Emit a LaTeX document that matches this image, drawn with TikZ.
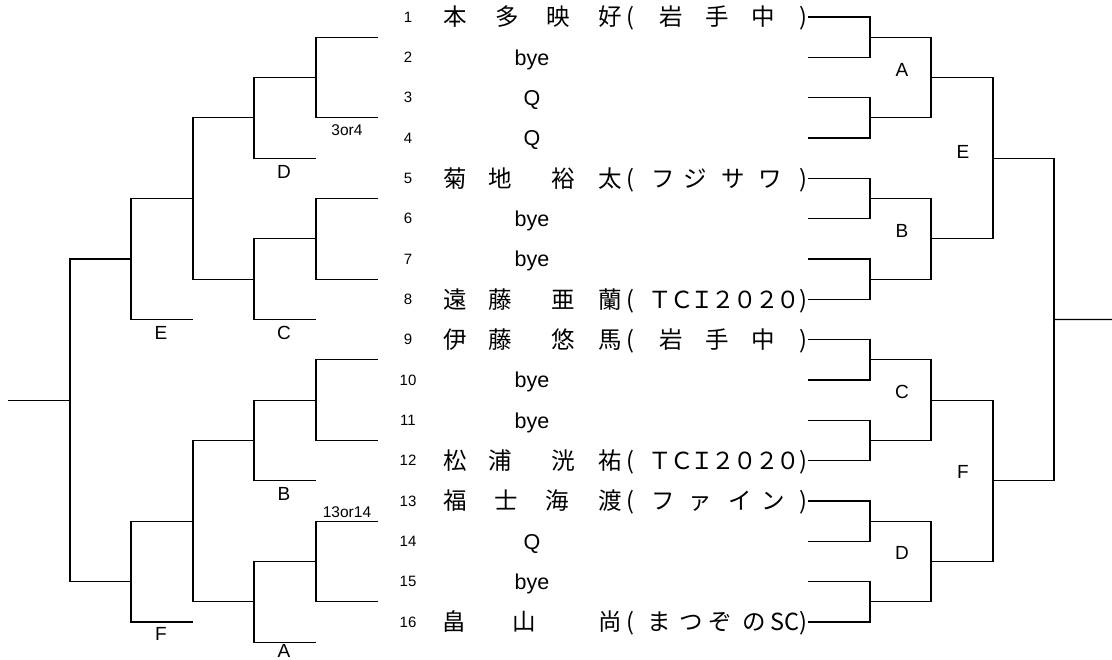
\documentclass[tikz,border=0pt]{standalone}
\usepackage{fontspec}
\setmainfont{Liberation Sans}
\newfontfamily\jpfont{Noto Sans CJK JP}
\usetikzlibrary{calc}

\tikzset{
  bline/.style={line width=1.2pt},
  jp/.style={font=\jpfont\fontsize{23.5}{23.5}\selectfont,inner sep=0pt,anchor=base},
  bye/.style={font=\fontsize{21.5}{21.5}\selectfont,inner sep=0pt,anchor=base},
  num/.style={font=\fontsize{15}{15}\selectfont,inner sep=0pt},
  lbl/.style={font=\fontsize{19}{19}\selectfont,inner sep=0pt},
  seed/.style={font=\fontsize{15.5}{15.5}\selectfont,inner sep=0pt}
}

% one bracket: top, bottom, column, name of the join
\newcommand\bkt[4]{%
  \draw[bline] (#1) -| (#3 |- #2) -- (#2);
  \coordinate (#4) at ($(#1 -| #3)!.5!(#2 -| #3)$);}

% one player row: row number, list of character/x
\newcommand\player[2]{%
  \foreach \ch/\cx [count=\k] in {#2}
    \node[jp] (p#1-\k) at (\cx,{ry(#1)+9}) {\ch};}

\begin{document}
\begin{tikzpicture}[x=1pt,y=-1pt,
    declare function={ry(\r)=17+40.33*(\r-1);}]
  \useasboundingbox (0,0) rectangle (1112,660);

  % draw numbers and entries
  \foreach \r in {1,...,16} {
    \node[num] (n\r) at (408,{ry(\r)}) {\r};
    \coordinate (r\r) at (808,{ry(\r)});
  }
  \player{1}{本/455,多/507,映/558,好/610,{(}/630,岩/671,手/717,中/763,{)}/803}
  \player{5}{菊/455,地/500,裕/563,太/610,{(}/630,フ/663,ジ/695,サ/733,ワ/770,{)}/803}
  \player{8}{遠/455,藤/500,亜/563,蘭/610,{(}/630,Ｔ/660,Ｃ/682,Ｉ/702,２/723,０/745,２/767,０/788,{)}/803}
  \player{9}{伊/455,藤/500,悠/563,馬/610,{(}/630,岩/671,手/717,中/763,{)}/803}
  \player{12}{松/455,浦/500,洸/563,祐/610,{(}/630,Ｔ/660,Ｃ/682,Ｉ/702,２/723,０/745,２/767,０/788,{)}/803}
  \player{13}{福/455,士/506,海/557,渡/610,{(}/630,フ/663,ァ/700,イ/740,ン/773,{)}/803}
  \player{16}{畠/454,山/524,尚/610,{(}/630,ま/659,つ/691,ぞ/720,の/754,SC/785,{)}/803}
  \foreach \r/\t in {2/bye,3/Q,4/Q,6/bye,7/bye,10/bye,11/bye,14/Q,15/bye}
    \node[bye] (p\r) at (532,{ry(\r)+8}) {\t};

  % main draw (right)
  \coordinate (cR1) at (870,0);
  \coordinate (cR2) at (931,0);
  \coordinate (cR3) at (993,0);
  \coordinate (cR4) at (1054,0);
  \foreach \j in {1,...,8} {
    \pgfmathtruncatemacro\a{2*\j-1}\pgfmathtruncatemacro\b{2*\j}
    \bkt{r\a}{r\b}{cR1}{ra\j}
  }
  \foreach \j in {1,...,4} {
    \pgfmathtruncatemacro\a{2*\j-1}\pgfmathtruncatemacro\b{2*\j}
    \bkt{ra\a}{ra\b}{cR2}{rb\j}
  }
  \foreach \j in {1,2} {
    \pgfmathtruncatemacro\a{2*\j-1}\pgfmathtruncatemacro\b{2*\j}
    \bkt{rb\a}{rb\b}{cR3}{rc\j}
  }
  \bkt{rc1}{rc2}{cR4}{rd}
  \coordinate (champ) at (1112,{ry(8.5)});
  \draw[bline] (rd) -- (champ);

  \node[lbl] (mA) at (902,70) {A};
  \node[lbl] (mB) at (902,231) {B};
  \node[lbl] (mC) at (902,392) {C};
  \node[lbl] (mD) at (902,553) {D};
  \node[lbl] (mE) at (963,152) {E};
  \node[lbl] (mF) at (963,472) {F};

  % consolation draw (left)
  \coordinate (cL2) at (316,0);
  \coordinate (cL3) at (254,0);
  \coordinate (cL4) at (193,0);
  \coordinate (cL5) at (131,0);
  \coordinate (cL6) at (70,0);
  \foreach \j in {1,...,8}
    \coordinate (l\j) at (378,{ry(2*\j-0.5)});
  \coordinate (fD) at (316,{ry(4.5)});
  \coordinate (fC) at (316,{ry(8.5)});
  \coordinate (fE) at (193,{ry(8.5)});
  \coordinate (fB) at (316,{ry(12.5)});
  \coordinate (fA) at (316,{ry(16.5)});
  \coordinate (fF) at (193,{ry(16)});

  \bkt{l1}{l2}{cL2}{la1}
  \bkt{la1}{fD}{cL3}{lb1}
  \bkt{l3}{l4}{cL2}{la2}
  \bkt{la2}{fC}{cL3}{lb2}
  \bkt{lb1}{lb2}{cL4}{lc1}
  \bkt{lc1}{fE}{cL5}{ld1}
  \bkt{l5}{l6}{cL2}{la3}
  \bkt{la3}{fB}{cL3}{lb3}
  \bkt{l7}{l8}{cL2}{la4}
  \bkt{la4}{fA}{cL3}{lb4}
  \bkt{lb3}{lb4}{cL4}{lc2}
  \bkt{lc2}{fF}{cL5}{ld2}
  \coordinate (ld2) at (131,{ry(15)});
  \bkt{ld1}{ld2}{cL6}{le}
  \coordinate (lwin) at (8,{ry(10.5)});
  \draw[bline] (lwin) -- (lwin -| cL6);

  \node[seed] (s34) at (347,130) {3or4};
  \node[seed] (s1314) at (347,512) {13or14};
  \node[lbl] (cD) at (284,172) {D};
  \node[lbl] (cC) at (284,333) {C};
  \node[lbl] (cE) at (161,333) {E};
  \node[lbl] (cB) at (284,494) {B};
  \node[lbl] (cF) at (161,634) {F};
  \node[lbl] (cA) at (284,651) {A};
\end{tikzpicture}
\end{document}
